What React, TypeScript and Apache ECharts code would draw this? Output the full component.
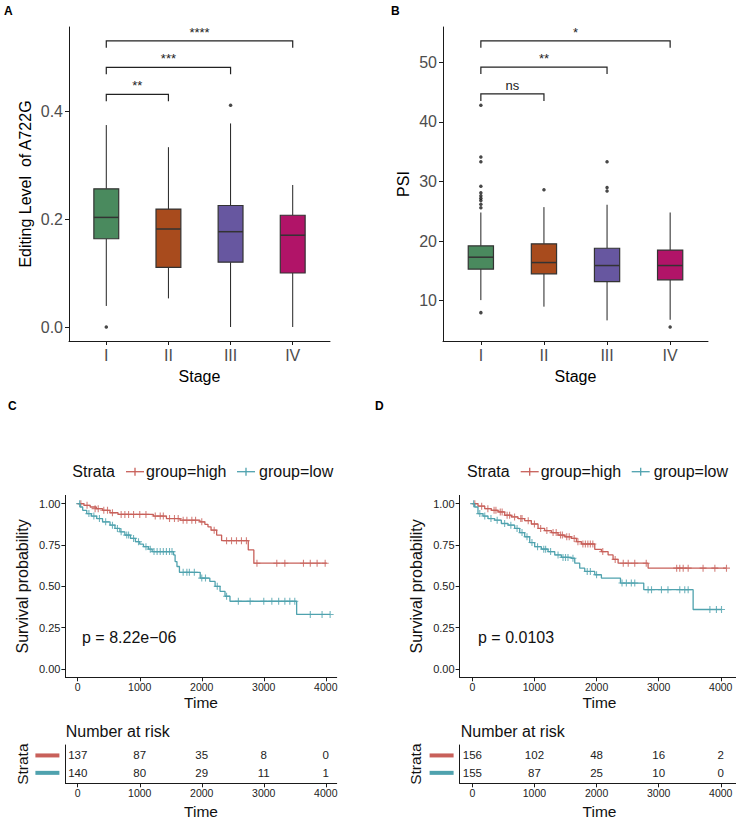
import React, { useEffect, useRef } from 'react';
import * as echarts from 'echarts';

const ff = '"Liberation Sans", Arial, Helvetica, sans-serif';

// ---------- Panel A / B data ----------
const stages = ['I', 'II', 'III', 'IV'];
const boxColors = ['#4A8A5E', '#A84B1D', '#6757A0', '#B11468'];

// [min, Q1, median, Q3, max] per stage
const editingBox = [
  [0.039, 0.1635, 0.203, 0.256, 0.374],
  [0.053, 0.1105, 0.1815, 0.2185, 0.333],
  [0.0, 0.12, 0.1765, 0.225, 0.377],
  [0.0, 0.1, 0.17, 0.207, 0.263],
];
const editingOutliers = [[1, 0.0], [3, 0.4105]];
const editingSigFrom = [1, 1, 1];
const editingSigTo = [2, 3, 4];
const editingSigY = [0.431, 0.481, 0.53];
const editingSigLabel = ['**', '***', '****'];

const psiBox = [
  [10.1, 15.3, 17.3, 19.2, 24.8],
  [9.0, 14.5, 16.4, 19.55, 25.7],
  [6.7, 13.2, 15.9, 18.8, 26.1],
  [6.8, 13.5, 15.9, 18.5, 24.8],
];
const psiOutliers = [
  [1, 42.8], [1, 34.1], [1, 33.3], [1, 29.2], [1, 28.1], [1, 27.6], [1, 27.2], [1, 26.8], [1, 26.2], [1, 25.6], [1, 8.0],
  [2, 28.6], [3, 33.3], [3, 29.0], [3, 28.4], [4, 5.6],
];
const psiSigFrom = [1, 1, 1];
const psiSigTo = [2, 3, 4];
const psiSigY = [44.7, 49.2, 53.6];
const psiSigLabel = ['ns', '**', '*'];

// ---------- Panel C / D data (Kaplan-Meier) ----------
const kmRed = '#C8605A';
const kmTeal = '#4FA2AE';

const cHigh = [
  [0, 1.0], [100, 0.99], [200, 0.98], [300, 0.97], [400, 0.96], [520, 0.945], [650, 0.935], [1220, 0.925],
  [1430, 0.91], [1650, 0.9], [1970, 0.89], [2050, 0.875], [2100, 0.86], [2150, 0.84], [2240, 0.81],
  [2320, 0.776], [2750, 0.72], [2840, 0.64], [4016, 0.64],
];
const cHighCens = [
  [50, 1], [150, 0.99], [280, 0.97], [330, 0.97], [420, 0.96], [480, 0.96], [560, 0.945], [700, 0.935],
  [760, 0.935], [820, 0.935], [900, 0.935], [1000, 0.935], [1100, 0.935], [1250, 0.925], [1330, 0.925],
  [1380, 0.925], [1480, 0.91], [1560, 0.91], [1620, 0.91], [1700, 0.9], [1760, 0.9], [1840, 0.9], [1900, 0.9],
  [2000, 0.89], [2200, 0.84], [2400, 0.776], [2480, 0.776], [2560, 0.776], [2640, 0.776], [2720, 0.776],
  [2890, 0.64], [3210, 0.64], [3340, 0.64], [3640, 0.64], [3750, 0.64], [3860, 0.64], [3990, 0.64],
];
const cLow = [
  [0, 1.0], [40, 0.98], [80, 0.96], [145, 0.94], [220, 0.925], [306, 0.91], [400, 0.89], [521, 0.87],
  [600, 0.85], [680, 0.83], [760, 0.81], [850, 0.79], [930, 0.77], [1000, 0.755], [1060, 0.74], [1140, 0.725],
  [1200, 0.71], [1545, 0.69], [1570, 0.65], [1600, 0.62], [1640, 0.585], [1975, 0.55], [2130, 0.53],
  [2215, 0.5], [2295, 0.47], [2375, 0.44], [2455, 0.41], [3530, 0.33], [4070, 0.33],
];
const cLowCens = [
  [30, 1], [180, 0.94], [260, 0.925], [350, 0.91], [450, 0.89], [560, 0.87], [640, 0.85], [700, 0.83],
  [790, 0.81], [820, 0.81], [900, 0.79], [980, 0.77], [1100, 0.74], [1170, 0.725], [1230, 0.71], [1280, 0.71],
  [1330, 0.71], [1380, 0.71], [1430, 0.71], [1480, 0.71], [1520, 0.71], [1700, 0.585], [1760, 0.585],
  [1800, 0.585], [1880, 0.585], [2000, 0.55], [2060, 0.55], [2250, 0.5], [2400, 0.44], [2590, 0.41],
  [2780, 0.41], [3000, 0.41], [3130, 0.41], [3240, 0.41], [3340, 0.41], [3420, 0.41], [3500, 0.41],
  [3750, 0.33], [3940, 0.33], [4070, 0.33],
];

const dHigh = [
  [0, 1], [91, 0.985], [200, 0.97], [306, 0.96], [414, 0.95], [521, 0.93], [628, 0.92], [736, 0.91],
  [843, 0.897], [950, 0.877], [1058, 0.85], [1165, 0.837], [1273, 0.825], [1380, 0.81], [1488, 0.8],
  [1595, 0.79], [1676, 0.77], [1756, 0.756], [1971, 0.724], [2078, 0.71], [2186, 0.69], [2266, 0.663],
  [2347, 0.64], [2830, 0.61], [4092, 0.61],
];
const dHighCens = [
  [40, 1], [150, 0.985], [250, 0.97], [350, 0.96], [380, 0.96], [450, 0.95], [480, 0.95], [560, 0.93],
  [600, 0.93], [680, 0.92], [780, 0.91], [800, 0.91], [900, 0.897], [1000, 0.877], [1100, 0.85], [1200, 0.837],
  [1300, 0.825], [1350, 0.825], [1420, 0.81], [1450, 0.81], [1520, 0.8], [1560, 0.8], [1640, 0.79], [1700, 0.77],
  [1780, 0.756], [1820, 0.756], [1860, 0.756], [1900, 0.756], [1940, 0.756], [2100, 0.71], [2300, 0.663],
  [2430, 0.64], [2510, 0.64], [2615, 0.64], [2800, 0.64], [3290, 0.61], [3340, 0.61], [3395, 0.61],
  [3475, 0.61], [3715, 0.61], [3905, 0.61], [4092, 0.61],
];
const dLow = [
  [0, 1], [38, 0.98], [91, 0.94], [172, 0.925], [252, 0.91], [360, 0.9], [467, 0.88], [575, 0.87], [682, 0.85],
  [763, 0.825], [843, 0.8], [924, 0.765], [1004, 0.74], [1112, 0.725], [1219, 0.71], [1327, 0.69],
  [1434, 0.675], [1595, 0.67], [1649, 0.64], [1729, 0.61], [1810, 0.59], [1971, 0.57], [2078, 0.55],
  [2385, 0.52], [2760, 0.48], [3555, 0.36], [4012, 0.36],
];
const dLowCens = [
  [20, 1], [120, 0.94], [200, 0.925], [300, 0.91], [400, 0.9], [520, 0.88], [620, 0.87], [720, 0.85],
  [800, 0.825], [880, 0.8], [960, 0.765], [1050, 0.74], [1150, 0.725], [1180, 0.725], [1260, 0.71],
  [1380, 0.69], [1460, 0.675], [1500, 0.675], [1540, 0.675], [1620, 0.67], [1850, 0.59], [1900, 0.59],
  [2000, 0.57], [2410, 0.52], [2480, 0.52], [2560, 0.52], [2615, 0.52], [2830, 0.48], [2885, 0.48],
  [3045, 0.48], [3150, 0.48], [3340, 0.48], [3420, 0.48], [3475, 0.48], [3825, 0.36], [3930, 0.36], [4012, 0.36],
];

const timeTicks = [0, 1000, 2000, 3000, 4000];
const survTicks = [0, 0.25, 0.5, 0.75, 1];
const cHighRisk = [137, 87, 35, 8, 0];
const cLowRisk = [140, 80, 29, 11, 1];
const dHighRisk = [156, 102, 48, 16, 2];
const dLowRisk = [155, 87, 25, 10, 0];
const cPValue = 'p = 8.22e\u221206';
const dPValue = 'p = 0.0103';

// ---------- helpers ----------
const axisCol = '#1a1a1a';
const lineStyle = { color: axisCol, width: 1 };

function baseAxis(gridIndex: number, min: number, max: number, ticks: number[], fmt: (v: number) => string, labelSize: number, labelColor: string, margin: number) {
  return {
    type: 'value', gridIndex, min, max,
    axisLine: { show: true, onZero: false, lineStyle },
    axisTick: { show: true, length: 4, customValues: ticks, lineStyle },
    axisLabel: { show: true, customValues: ticks, formatter: fmt, fontSize: labelSize, color: labelColor, margin, fontFamily: ff },
    splitLine: { show: false },
  };
}

function boxSeries(xi: number, boxes: number[][]) {
  return {
    type: 'custom', xAxisIndex: xi, yAxisIndex: xi, silent: true,
    data: boxes.map((b, i) => [i + 1, b[0], b[1], b[2], b[3], b[4]]),
    encode: { x: 0, y: [1, 2, 3, 4, 5] },
    renderItem: (params: any, api: any) => {
      const x = api.value(0);
      const pMin = api.coord([x, api.value(1)]);
      const pQ1 = api.coord([x, api.value(2)]);
      const pMed = api.coord([x, api.value(3)]);
      const pQ3 = api.coord([x, api.value(4)]);
      const pMax = api.coord([x, api.value(5)]);
      const hw = api.size([0.4, 0])[0] / 2;
      const stroke = '#333333';
      return {
        type: 'group',
        children: [
          { type: 'line', shape: { x1: pMax[0], y1: pMax[1], x2: pQ3[0], y2: pQ3[1] }, style: { stroke: '#222', lineWidth: 1 } },
          { type: 'line', shape: { x1: pQ1[0], y1: pQ1[1], x2: pMin[0], y2: pMin[1] }, style: { stroke: '#222', lineWidth: 1 } },
          { type: 'rect', shape: { x: pQ3[0] - hw, y: pQ3[1], width: hw * 2, height: pQ1[1] - pQ3[1] }, style: { fill: boxColors[params.dataIndex], stroke, lineWidth: 1.2 } },
          { type: 'line', shape: { x1: pMed[0] - hw, y1: pMed[1], x2: pMed[0] + hw, y2: pMed[1] }, style: { stroke, lineWidth: 1.5 } },
        ],
      };
    },
  };
}

function outlierSeries(xi: number, pts: number[][]) {
  return { type: 'scatter', xAxisIndex: xi, yAxisIndex: xi, data: pts, symbolSize: 3.5, itemStyle: { color: '#1a1a1a' }, silent: true };
}

function sigSeries(xi: number, from: number[], to: number[], ys: number[], labels: string[]) {
  return {
    type: 'custom', xAxisIndex: xi, yAxisIndex: xi, silent: true,
    data: from.map((f, i) => [f, to[i], ys[i]]),
    encode: { x: [0, 1], y: 2 },
    renderItem: (params: any, api: any) => {
      const p1 = api.coord([api.value(0), api.value(2)]);
      const p2 = api.coord([api.value(1), api.value(2)]);
      const lab = labels[params.dataIndex];
      return {
        type: 'group',
        children: [
          { type: 'polyline', shape: { points: [[p1[0], p1[1] + 7], [p1[0], p1[1]], [p2[0], p2[1]], [p2[0], p2[1] + 7]] }, style: { stroke: '#222', fill: 'none', lineWidth: 1.2 } },
          { type: 'text', x: (p1[0] + p2[0]) / 2, y: p1[1] - 2, style: { text: lab, align: 'center', verticalAlign: 'bottom', fontSize: 13, fill: '#222', fontFamily: ff } },
        ],
      };
    },
  };
}

const crossSymbol = 'path://M0,5L10,5M5,0L5,10';

function kmSeries(xi: number, steps: number[][], cens: number[][], color: string, name: string) {
  return [
    { type: 'line', name, xAxisIndex: xi, yAxisIndex: xi, data: steps, step: 'end', symbol: 'none', showSymbol: false, lineStyle: { color, width: 1.3 }, itemStyle: { color }, silent: true },
    { type: 'scatter', name, xAxisIndex: xi, yAxisIndex: xi, data: cens, symbol: crossSymbol, symbolSize: 7, itemStyle: { color: 'transparent', borderColor: color, borderWidth: 1.1 }, silent: true },
  ];
}

function riskSeries(xi: number, high: number[], low: number[]) {
  const data: number[][] = [];
  timeTicks.forEach((t, i) => { data.push([t, 2, high[i]]); data.push([t, 1, low[i]]); });
  return {
    type: 'custom', xAxisIndex: xi, yAxisIndex: xi, silent: true, data,
    encode: { x: 0, y: 1 },
    renderItem: (params: any, api: any) => {
      const p = api.coord([api.value(0), api.value(1)]);
      return { type: 'text', x: p[0], y: p[1], style: { text: String(api.value(2)), align: 'center', verticalAlign: 'middle', fontSize: 11.5, fill: '#222', fontFamily: ff } };
    },
  };
}

function legendGraphic(x0: number, y0: number) {
  const t = (x: number, text: string) => ({ type: 'text', x, y: 0, style: { text, fontSize: 16, fontFamily: ff, fill: '#111', verticalAlign: 'middle' } });
  const icon = (x1: number, color: string) => [
    { type: 'line', shape: { x1, y1: 0, x2: x1 + 18, y2: 0 }, style: { stroke: color, lineWidth: 1.3 } },
    { type: 'line', shape: { x1: x1 + 9, y1: -4, x2: x1 + 9, y2: 4 }, style: { stroke: color, lineWidth: 1.3 } },
  ];
  return {
    type: 'group', x: x0, y: y0,
    children: [t(0, 'Strata'), ...icon(53.7, kmRed), t(73.7, 'group=high'), ...icon(164.7, kmTeal), t(186.7, 'group=low')],
  };
}

const letter = (x: number, y: number, text: string) => ({ type: 'text', x, y, style: { text, fontSize: 12, fontWeight: 'bold', fontFamily: ff, fill: '#000', verticalAlign: 'middle' } });
const plainText = (x: number, y: number, text: string) => ({ type: 'text', x, y, style: { text, fontSize: 16, fontFamily: ff, fill: '#111', verticalAlign: 'middle' } });

const riskYAxis = (gridIndex: number, nameGap: number) => ({
  type: 'value', gridIndex, min: 0.4, max: 2.6,
  axisLine: { show: true, onZero: false, lineStyle },
  axisTick: { show: false },
  axisLabel: {
    show: true, customValues: [1, 2], margin: 6,
    formatter: (v: number) => (v === 2 ? '{h| }' : '{l| }'),
    rich: { h: { backgroundColor: kmRed, width: 24, height: 4 }, l: { backgroundColor: kmTeal, width: 24, height: 4 } },
  },
  splitLine: { show: false },
  name: 'Strata', nameLocation: 'middle', nameRotate: 90, nameGap, nameTextStyle: { fontSize: 15.5, color: '#111', fontFamily: ff },
});

export default function App() {
  const ref = useRef<HTMLDivElement>(null);
  useEffect(() => {
    if (!ref.current) return;
    const chart = echarts.init(ref.current, undefined, { renderer: 'svg' });
    const fmt1 = (v: number) => v.toFixed(1);
    const fmt2 = (v: number) => v.toFixed(2);
    const fmtInt = (v: number) => String(v);
    const fmtStage = (v: number) => stages[Math.round(v) - 1];

    const option: any = {
      animation: false,
      backgroundColor: '#ffffff',
      textStyle: { fontFamily: ff },
      grid: [
        { left: 69, top: 27, width: 261, height: 314, outerBoundsMode: 'none' },
        { left: 443, top: 27, width: 265, height: 314, outerBoundsMode: 'none' },
        { left: 65.4, top: 495.4, width: 271.3, height: 181.9, outerBoundsMode: 'none' },
        { left: 459.6, top: 495.4, width: 279.8, height: 181.9, outerBoundsMode: 'none' },
        { left: 65.4, top: 745, width: 271.3, height: 38.3, outerBoundsMode: 'none' },
        { left: 459.6, top: 745, width: 279.8, height: 38.3, outerBoundsMode: 'none' },
      ],
      xAxis: [
        { ...baseAxis(0, 0.4, 4.6, [1, 2, 3, 4], fmtStage, 16, '#4d4d4d', 6), name: 'Stage', nameLocation: 'middle', nameGap: 27, nameTextStyle: { fontSize: 16, color: '#000', fontFamily: ff } },
        { ...baseAxis(1, 0.4, 4.6, [1, 2, 3, 4], fmtStage, 16, '#4d4d4d', 6), name: 'Stage', nameLocation: 'middle', nameGap: 27, nameTextStyle: { fontSize: 16, color: '#000', fontFamily: ff } },
        { ...baseAxis(2, -199, 4176, timeTicks, fmtInt, 10.5, '#222', 4), name: 'Time', nameLocation: 'middle', nameGap: 17, nameTextStyle: { fontSize: 15.5, color: '#111', fontFamily: ff } },
        { ...baseAxis(3, -205, 4300, timeTicks, fmtInt, 10.5, '#222', 4), name: 'Time', nameLocation: 'middle', nameGap: 17, nameTextStyle: { fontSize: 15.5, color: '#111', fontFamily: ff } },
        { ...baseAxis(4, -199, 4176, timeTicks, fmtInt, 10.5, '#222', 4), name: 'Time', nameLocation: 'middle', nameGap: 20, nameTextStyle: { fontSize: 15.5, color: '#111', fontFamily: ff } },
        { ...baseAxis(5, -205, 4300, timeTicks, fmtInt, 10.5, '#222', 4), name: 'Time', nameLocation: 'middle', nameGap: 20, nameTextStyle: { fontSize: 15.5, color: '#111', fontFamily: ff } },
      ],
      yAxis: [
        { ...baseAxis(0, -0.0259, 0.5556, [0, 0.2, 0.4], fmt1, 16, '#4d4d4d', 6), name: 'Editing Level  of A722G', nameLocation: 'middle', nameRotate: 90, nameGap: 36, nameTextStyle: { fontSize: 16, color: '#000', fontFamily: ff } },
        { ...baseAxis(1, 3.24, 55.92, [10, 20, 30, 40, 50], fmtInt, 16, '#4d4d4d', 6), name: 'PSI', nameLocation: 'middle', nameRotate: 90, nameGap: 32, nameTextStyle: { fontSize: 16, color: '#000', fontFamily: ff } },
        { ...baseAxis(2, -0.05, 1.05, survTicks, fmt2, 11, '#222', 5), name: 'Survival probability', nameLocation: 'middle', nameRotate: 90, nameGap: 35, nameTextStyle: { fontSize: 16, color: '#111', fontFamily: ff } },
        { ...baseAxis(3, -0.05, 1.05, survTicks, fmt2, 11, '#222', 5), name: 'Survival probability', nameLocation: 'middle', nameRotate: 90, nameGap: 35, nameTextStyle: { fontSize: 16, color: '#111', fontFamily: ff } },
        riskYAxis(4, 35),
        riskYAxis(5, 36),
      ],
      series: [
        boxSeries(0, editingBox),
        outlierSeries(0, editingOutliers),
        sigSeries(0, editingSigFrom, editingSigTo, editingSigY, editingSigLabel),
        boxSeries(1, psiBox),
        outlierSeries(1, psiOutliers),
        sigSeries(1, psiSigFrom, psiSigTo, psiSigY, psiSigLabel),
        ...kmSeries(2, cHigh, cHighCens, kmRed, 'group=high'),
        ...kmSeries(2, cLow, cLowCens, kmTeal, 'group=low'),
        ...kmSeries(3, dHigh, dHighCens, kmRed, 'group=high'),
        ...kmSeries(3, dLow, dLowCens, kmTeal, 'group=low'),
        riskSeries(4, cHighRisk, cLowRisk),
        riskSeries(5, dHighRisk, dLowRisk),
      ],
      graphic: [
        letter(4, 11, 'A'),
        letter(391, 11, 'B'),
        letter(8, 406, 'C'),
        letter(375, 406, 'D'),
        legendGraphic(72.3, 471.7),
        legendGraphic(467, 471.7),
        plainText(82, 637, cPValue),
        plainText(478, 637, dPValue),
        plainText(65.7, 731.7, 'Number at risk'),
        plainText(460.7, 731.7, 'Number at risk'),
      ],
    };
    chart.setOption(option);
    return () => chart.dispose();
  }, []);
  return <div ref={ref} style={{ position: 'fixed', left: 0, top: 0, width: 736, height: 820, background: '#fff' }} />;
}
